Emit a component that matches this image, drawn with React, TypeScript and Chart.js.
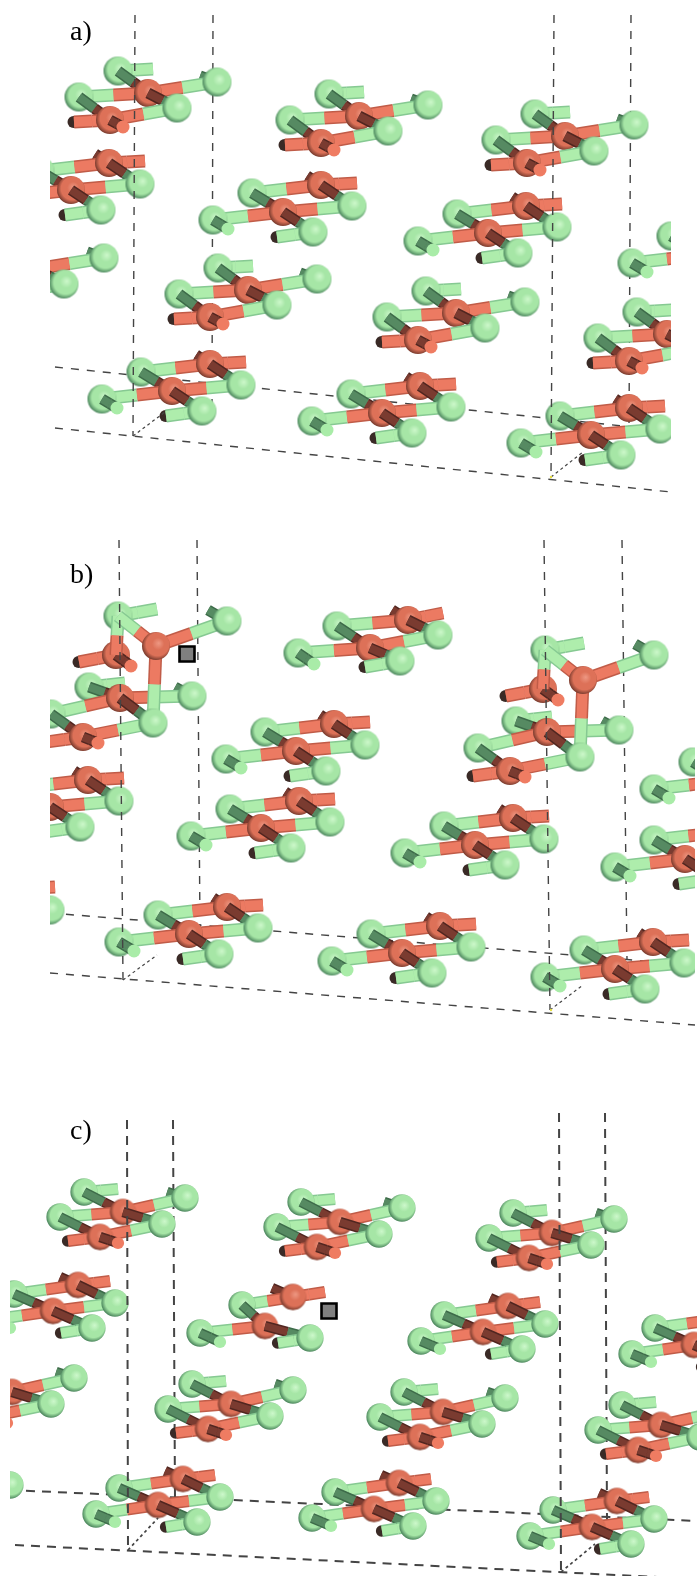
import React, { useEffect, useRef } from "react";
import { Chart, registerables } from "chart.js";

Chart.register(...registerables);

type Pt = [number, number];
type Offsets = Record<string, Pt>;
// op: kind, point(s), species
type Op = [string, string, string?, string?, string?];

// ---------- molecule shapes (offsets) ----------
const shapeOabOffsets: Offsets = {
  a1: [0, 0], g1: [-30, -22], g1e: [5, -24], g2: [-69, 4], g3: [69, -11], g3s: [52, -17],
  a2: [-38, 27], a2e: [-74, 29], tip: [-25, 34], g4: [29, 15],
};
const shapePabOffsets: Offsets = {
  a2: [0, 0], g0: [-70, 8], tip: [-55, 17], g1: [-31, -19], a1: [38, -27], e: [74, -29],
  g3: [69, -6], stub: [24, -36], g4: [30, 20], ge: [-6, 25],
};
const shapePbTopOffsets: Offsets = {
  a2: [0, 0], g0: [-72, 5], tip: [-56, 16], g1: [-33, -22], a1: [38, -28], e: [73, -35],
  g3: [68, -13], stub: [22, -38], g4: [30, 13], ge: [-5, 19],
};
const shapeOcOffsets: Offsets = {
  a1: [0, 0], g1: [-39, -20], g1e: [-5, -23], g2: [-63, 5], g3: [62, -14], g3s: [44, -20],
  a2: [-23, 25], a2e: [-55, 29], tip: [-5, 31], g4: [39, 12],
};
const shapePcOffsets: Offsets = {
  a2: [0, 0], g0: [-62, 9], tip: [-43, 17], g1: [-39, -17], a1: [25, -26], e: [57, -30],
  g3: [62, -8], stub: [7, -34], g4: [39, 17], ge: [8, 22],
};
const shapeDefectOffsets: Offsets = {
  a2: [0, 0], g0: [-65, 7], tip: [-45, 16], g1: [-23, -21], a1: [28, -29], e: [60, -34],
  stub: [7, -38], g4: [45, 12], ge: [13, 17],
};
const shapeLiftedOffsets: Offsets = {
  g1: [0, 0], g1e: [39, -7], a2: [-2, 39], a2e: [-39, 46], tip: [13, 50], a1: [38, 30],
  g3: [109, 5], g3s: [90, -6], g4: [35, 107], g2: [-29, 71], g2e: [7, 67], a3: [2, 82],
  g5: [74, 80], g5s: [57, 71], g6: [-67, 98], a4: [-35, 121], a4e: [-72, 126], tip2: [-20, 127],
};

const opsO: Op[] = [
  ["dark", "g3s", "g3", "G", "G"], ["bar", "g1", "g1e", "G", "G"], ["ball", "g1", "G"],
  ["dark", "g1", "a1", "G", "O"], ["bar", "g2", "a1", "G", "O"], ["bar", "a1", "g3", "O", "G"],
  ["ball", "a1", "O"], ["ball", "g3", "G"], ["dark", "a1", "g4", "O", "G"], ["ball", "g2", "G"],
  ["dark", "g2", "a2", "G", "O"], ["cap", "a2e", "O"], ["bar", "a2", "a2e", "O", "O"],
  ["bar", "a2", "g4", "O", "G"], ["ball", "g4", "G"], ["ball", "a2", "O"],
  ["dark", "a2", "tip", "O", "O"], ["disc", "tip", "O"],
];
const opsP: Op[] = [
  ["dark", "stub", "a1", "O", "O"], ["bar", "g1", "a1", "G", "O"], ["bar", "a1", "e", "O", "O"],
  ["ball", "a1", "O"], ["ball", "g1", "G"], ["dark", "g1", "a2", "G", "O"],
  ["dark", "a1", "g3", "O", "G"], ["bar", "g0", "a2", "G", "O"], ["bar", "a2", "g3", "O", "G"],
  ["ball", "g3", "G"], ["ball", "a2", "O"], ["ball", "g0", "G"], ["dark", "g0", "tip", "G", "G"],
  ["disc", "tip", "G"], ["dark", "a2", "g4", "O", "G"], ["cap", "ge", "G"],
  ["bar", "ge", "g4", "G", "G"], ["ball", "g4", "G"],
];
const opsDefect: Op[] = [
  ["dark", "stub", "a1", "O", "O"], ["bar", "g1", "a1", "G", "O"], ["bar", "a1", "e", "O", "O"],
  ["ball", "a1", "O"], ["ball", "g1", "G"], ["dark", "g1", "a2", "G", "O"],
  ["bar", "g0", "a2", "G", "O"], ["ball", "a2", "O"], ["ball", "g0", "G"],
  ["dark", "g0", "tip", "G", "G"], ["disc", "tip", "G"], ["dark", "a2", "g4", "O", "G"],
  ["cap", "ge", "G"], ["bar", "ge", "g4", "G", "G"], ["ball", "g4", "G"],
];
const opsLifted: Op[] = [
  ["dark", "g5s", "g5", "G", "G"], ["bar", "g2", "g2e", "G", "G"], ["ball", "g2", "G"],
  ["bar", "a3", "g5", "O", "G"], ["ball", "g5", "G"], ["dark", "g2", "a3", "G", "O"],
  ["bar", "g6", "a3", "G", "O"], ["ball", "a3", "O"], ["ball", "g6", "G"],
  ["dark", "g6", "a4", "G", "O"], ["dark", "a3", "g4", "O", "G"], ["cap", "a4e", "O"],
  ["bar", "a4", "a4e", "O", "O"], ["bar", "a4", "g4", "O", "G"], ["ball", "a4", "O"],
  ["dark", "a4", "tip2", "O", "O"], ["disc", "tip2", "O"],
  ["bar", "a1", "g4", "O", "G"], ["ball", "g4", "G"],
  ["bar", "g1", "g1e", "G", "G"], ["cap", "a2e", "O"], ["bar", "a2", "a2e", "O", "O"],
  ["ball", "a2", "O"], ["dark", "a2", "tip", "O", "O"], ["disc", "tip", "O"], ["ball", "g1", "G"],
  ["bar", "g1", "a2", "G", "O"], ["dark", "g3s", "g3", "G", "G"], ["bar", "a1", "g3", "O", "G"],
  ["bar", "g1", "a1", "G", "O"], ["ball", "a1", "O"], ["ball", "g3", "G"],
];

// ---------- where each molecule sits ----------
const panelAShapeO: Pt[] = [[148, 93], [359, 116], [565, 136], [35, 269], [248, 290], [456, 313], [667, 334]];
const panelAShapeP: Pt[] = [[71, 190], [283, 212], [488, 233], [702, 255], [172, 391], [382, 413], [591, 435]];
const panelBShapeTop: Pt[] = [[370, 648]];
const panelBShapeP: Pt[] = [[50, 807], [296, 751], [261, 828], [475, 845], [685, 859], [724, 781], [-19, 916], [189, 934], [402, 953], [615, 969]];
const panelBShapeLifted: Pt[] = [[118, 616], [545, 650]];
const panelCShapeO: Pt[] = [[123, 1212], [340, 1222], [552, 1233], [12, 1392], [231, 1404], [443, 1412], [661, 1425]];
const panelCShapeP: Pt[] = [[53, 1311], [483, 1332], [694, 1345], [-52, 1493], [158, 1505], [374, 1509], [592, 1527]];
const panelCShapeDefect: Pt[] = [[265, 1326]];
const vacancyMarkers: Pt[] = [[187, 654], [329, 1311]];
const originMarkers: Pt[] = [[551, 477], [551, 1010]];

// ---------- unit-cell lines ----------
const cellBackA: Pt[][] = [[[213, 15], [212, 410]], [[631, 15], [629, 430]], [[55, 367], [671, 431]]];
const cellFrontA: Pt[][] = [[[135, 15], [133, 436]], [[554, 15], [551, 477]], [[55, 428], [671, 492]]];
const cellDepthA: Pt[][] = [[[133, 436], [165, 412]], [[551, 477], [583, 452]]];
const cellBackB: Pt[][] = [[[197, 540], [200, 930]], [[622, 540], [627, 960]], [[50, 913], [695, 965]]];
const cellFrontB: Pt[][] = [[[119, 540], [123, 980]], [[544, 540], [550, 1010]], [[50, 973], [695, 1025]]];
const cellDepthB: Pt[][] = [[[123, 980], [157, 955]], [[550, 1010], [583, 985]]];
const cellBackC: Pt[][] = [[[173, 1120], [175, 1500]], [[605, 1113], [607, 1520]], [[10, 1490], [697, 1521]]];
const cellFrontC: Pt[][] = [[[127, 1120], [128, 1550]], [[559, 1113], [561, 1572]], [[15, 1545], [697, 1579]]];
const cellDepthC: Pt[][] = [[[128, 1550], [158, 1518]], [[561, 1572], [595, 1544]]];

const panelLabels: [string, number, number][] = [["a)", 70, 15], ["b)", 70, 558], ["c)", 70, 1114]];

// ---------- styles ----------
const COL: Record<string, { base: string; mid: string; dBase: string; dMid: string; disc: string; hi: string; body: string; edge: string }> = {
  G: { base: "#86c992", mid: "#aeedac", dBase: "#3d6b49", dMid: "#568a62", disc: "#a9eca8", hi: "#cdf8cb", body: "#a6e6a6", edge: "#4f8a60" },
  O: { base: "#c05c48", mid: "#ec7a62", dBase: "#512620", dMid: "#7a3b30", disc: "#ef7c62", hi: "#ee9883", body: "#dd7158", edge: "#7f3e30" },
};

function sphere(r: number, sp: string): HTMLCanvasElement {
  const c = document.createElement("canvas");
  const s = Math.ceil(r * 2 + 2);
  c.width = s;
  c.height = s;
  const ctx = c.getContext("2d")!;
  const m = s / 2;
  const g = ctx.createRadialGradient(m + r * 0.2, m - r * 0.2, 0, m + r * 0.08, m - r * 0.08, r * 1.08);
  g.addColorStop(0, COL[sp].hi);
  g.addColorStop(0.4, COL[sp].body);
  g.addColorStop(0.75, COL[sp].body);
  g.addColorStop(1, COL[sp].edge);
  ctx.fillStyle = g;
  ctx.beginPath();
  ctx.arc(m, m, r, 0, Math.PI * 2);
  ctx.fill();
  return c;
}

interface Box { x0: number; x1: number; y0: number; y1: number }
const W = 697;
const H = 1576;
const clipOf = (b: Box) => ({ left: -b.x0, right: -(W - b.x1), top: -b.y0, bottom: -(H - b.y1) });

function buildDatasets() {
  const ds: any[] = [];
  const seg = (p: Pt, q: Pt, color: string, width: number, box: Box, dash: number[] = []) =>
    ds.push({
      type: "scatter", showLine: true, pointRadius: 0, borderColor: color, borderWidth: width,
      borderDash: dash, clip: clipOf(box), data: [{ x: p[0], y: p[1] }, { x: q[0], y: q[1] }],
    });
  const dot = (p: Pt, style: any, r: number, fill: string, box: Box, border = "transparent", bw = 0) =>
    ds.push({
      type: "scatter", showLine: false, pointStyle: style, pointRadius: r, pointBackgroundColor: fill,
      pointBorderColor: border, pointBorderWidth: bw, clip: clipOf(box), data: [{ x: p[0], y: p[1] }],
    });
  const stick = (p: Pt, q: Pt, sa: string, sb: string, w: number, dark: boolean, box: Box) => {
    const mid: Pt = [(p[0] + q[0]) / 2, (p[1] + q[1]) / 2];
    const base = (s: string) => (dark ? COL[s].dBase : COL[s].base);
    const top = (s: string) => (dark ? COL[s].dMid : COL[s].mid);
    seg(p, mid, base(sa), w, box);
    seg(mid, q, base(sb), w, box);
    seg(p, mid, top(sa), w - 3, box);
    seg(mid, q, top(sb), w - 3, box);
  };

  const molecule = (at: Pt, shape: Offsets, ops: Op[], box: Box, k: number) => {
    const P = (n: string): Pt => [at[0] + shape[n][0], at[1] + shape[n][1]];
    const balls: Record<string, HTMLCanvasElement> = { G: sphere(14.5 * k, "G"), O: sphere(14 * k, "O") };
    for (const op of ops) {
      const [kind, a, b, c, d] = op;
      if (kind === "bar") stick(P(a), P(b!), c!, d!, 13 * k, false, box);
      else if (kind === "dark") stick(P(a), P(b!), c!, d!, 11 * k, true, box);
      else if (kind === "ball") dot(P(a), balls[b!], 14 * k, COL[b!].body, box);
      else if (kind === "disc") dot(P(a), "circle", 6.5 * k, COL[b!].disc, box);
      else if (kind === "cap") dot([P(a)[0] - 0.5, P(a)[1]], "circle", 6 * k, "#3a2a26", box);
    }
  };

  const lines = (list: Pt[][], color: string, w: number, dash: number[], box: Box) =>
    list.forEach(([p, q]) => seg(p, q, color, w, box, dash));

  const boxA: Box = { x0: 50, x1: 671, y0: 0, y1: 510 };
  const boxB: Box = { x0: 50, x1: 695, y0: 520, y1: 1050 };
  const boxC: Box = { x0: 10, x1: 697, y0: 1090, y1: 1576 };
  const ink = "#444444";

  lines(cellBackA, ink, 1.4, [8, 8], boxA);
  panelAShapeO.forEach((p) => molecule(p, shapeOabOffsets, opsO, boxA, 1));
  panelAShapeP.forEach((p) => molecule(p, shapePabOffsets, opsP, boxA, 1));
  lines(cellFrontA, ink, 1.4, [8, 8], boxA);
  lines(cellDepthA, ink, 1.2, [3, 3], boxA);

  lines(cellBackB, ink, 1.4, [8, 8], boxB);
  panelBShapeTop.forEach((p) => molecule(p, shapePbTopOffsets, opsP, boxB, 1));
  panelBShapeP.forEach((p) => molecule(p, shapePabOffsets, opsP, boxB, 1));
  panelBShapeLifted.forEach((p) => molecule(p, shapeLiftedOffsets, opsLifted, boxB, 1));
  lines(cellFrontB, ink, 1.4, [8, 8], boxB);
  lines(cellDepthB, ink, 1.2, [3, 3], boxB);

  lines(cellBackC, ink, 2, [9, 7], boxC);
  panelCShapeO.forEach((p) => molecule(p, shapeOcOffsets, opsO, boxC, 0.94));
  panelCShapeP.forEach((p) => molecule(p, shapePcOffsets, opsP, boxC, 0.94));
  panelCShapeDefect.forEach((p) => molecule(p, shapeDefectOffsets, opsDefect, boxC, 0.94));
  lines(cellFrontC, ink, 2, [9, 7], boxC);
  lines(cellDepthC, ink, 1.7, [3, 3], boxC);

  originMarkers.forEach((p) => dot(p, "circle", 1.2, "#e8e040", p[1] > 520 ? boxB : boxA));
  vacancyMarkers.forEach((p) => dot(p, "rect", 10.6, "#808080", p[1] > 1090 ? boxC : boxB, "#000000", 2.6));

  return ds.reverse(); // Chart.js paints dataset 0 last
}

export default function App() {
  const ref = useRef<HTMLCanvasElement | null>(null);
  useEffect(() => {
    const chart = new Chart(ref.current!, {
      type: "scatter",
      data: { datasets: buildDatasets() },
      options: {
        animation: false,
        responsive: false,
        events: [],
        layout: { padding: 0, autoPadding: false },
        plugins: { legend: { display: false }, tooltip: { enabled: false }, title: { display: false } },
        scales: {
          x: { type: "linear", min: 0, max: W, display: false },
          y: { type: "linear", min: 0, max: H, reverse: true, display: false },
        },
      },
    } as any);
    return () => chart.destroy();
  }, []);
  return (
    <div style={{ position: "absolute", left: 0, top: 0, width: W, height: H, background: "#fff" }}>
      <canvas ref={ref} width={W} height={H} style={{ display: "block", width: W, height: H }} />
      {panelLabels.map(([t, x, y]) => (
        <span key={t} style={{ position: "absolute", left: x, top: y, fontFamily: '"Liberation Serif", serif', fontSize: 28, lineHeight: "31px", color: "#000" }}>
          {t}
        </span>
      ))}
    </div>
  );
}
